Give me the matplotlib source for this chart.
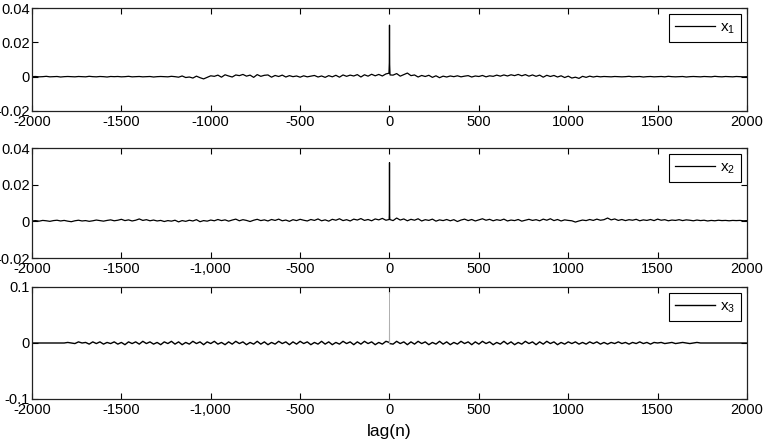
import numpy as np
import matplotlib
matplotlib.use("Agg")
import matplotlib.pyplot as plt

plt.rcParams['font.family'] = ['Liberation Sans', 'DejaVu Sans']
plt.rcParams['axes.unicode_minus'] = False

# ---------------- data ----------------
lag_start, lag_stop, lag_step = -2000, 2000, 20

x1_vals = [
    0.0000, 0.0001, -0.0001, 0.0000, 0.0002, -0.0001, 0.0000, 0.0001, -0.0002, 0.0000,
    0.0001, 0.0000, -0.0001, 0.0001, 0.0000, -0.0001, 0.0002, 0.0000, -0.0001, 0.0001,
    0.0000, -0.0002, 0.0001, 0.0000, 0.0001, -0.0001, 0.0000, 0.0002, -0.0001, 0.0000,
    0.0001, -0.0001, 0.0000, 0.0001, -0.0002, 0.0000, 0.0001, 0.0000, -0.0001, 0.0002,
    0.0000,
    -0.0003, 0.0004, -0.0005, -0.0002, -0.0008, 0.0003, -0.0006, -0.0013, -0.0004, 0.0005,
    0.0002, 0.0009, -0.0003, 0.0011, 0.0004, -0.0002, 0.0010, 0.0006, 0.0013, 0.0003,
    0.0009, -0.0004, 0.0012, 0.0002, 0.0008, 0.0010, -0.0003, 0.0007, 0.0001, 0.0009,
    -0.0002, 0.0006, 0.0000, 0.0004, -0.0003, 0.0005, -0.0001, 0.0003, 0.0007, -0.0002,
    0.0004, -0.0004, 0.0006, -0.0001, 0.0008, -0.0003, 0.0010, 0.0002, 0.0009, 0.0004,
    0.0012, -0.0002, 0.0011, 0.0003, 0.0014, 0.0005, 0.0013, 0.0004, 0.0016,
    0.0070,
    0.0009, 0.0018, 0.0003, 0.0012, 0.0021, 0.0006, 0.0010, -0.0002, 0.0007, 0.0001,
    0.0008, -0.0004, 0.0005, -0.0006, 0.0003, -0.0002, 0.0004, 0.0000, 0.0005, -0.0001,
    0.0003, 0.0006, -0.0002, 0.0004, 0.0001, 0.0007, -0.0001, 0.0005, 0.0002, 0.0009,
    0.0003, 0.0010, 0.0004, 0.0011, 0.0006, 0.0013, 0.0005, 0.0012, 0.0003, 0.0010,
    0.0002, 0.0009, -0.0003, 0.0008, 0.0001, 0.0007, -0.0002, 0.0005, -0.0005, 0.0003,
    -0.0008, -0.0003, -0.0010, 0.0002, -0.0004, 0.0003, -0.0002, 0.0002, -0.0001, 0.0001,
    0.0000, -0.0001, 0.0001, 0.0000, -0.0001, 0.0000, 0.0002, -0.0001, 0.0000, 0.0001,
    -0.0002, 0.0000, 0.0001, -0.0001, 0.0000, 0.0001, -0.0001, 0.0002, 0.0000, -0.0001,
    0.0000, 0.0001, -0.0002, 0.0000, 0.0001, 0.0000, -0.0001, 0.0001, 0.0000, -0.0001,
    0.0002, 0.0000, -0.0001, 0.0001, 0.0000, -0.0001, 0.0001, 0.0000, -0.0001, 0.0000,
]
x1_peak_lags = [-3, -2, -1, 0, 1, 2, 3]
x1_peak_vals = [0.0020, 0.0050, 0.0080, 0.0300, 0.0070, 0.0030, 0.0010]

x2_vals = [
    0.0002, 0.0004, 0.0001, 0.0005, 0.0003, 0.0000, 0.0004, 0.0006, 0.0002, 0.0005,
    0.0001, -0.0002, 0.0003, 0.0006, 0.0002, 0.0004, 0.0000, 0.0003, 0.0007, 0.0004,
    0.0001, 0.0005, 0.0008, 0.0003, 0.0006, 0.0011, 0.0004, 0.0008, 0.0002, 0.0006,
    0.0013, 0.0005, 0.0009, 0.0003, 0.0007, 0.0002, 0.0005, -0.0001, 0.0004, 0.0001,
    0.0006,
    -0.0003, 0.0004, 0.0000, 0.0006, 0.0002, 0.0009, -0.0002, 0.0004, 0.0001, 0.0007,
    0.0003, 0.0010, 0.0004, 0.0008, 0.0001, 0.0007, 0.0012, 0.0003, 0.0009, 0.0005,
    -0.0001, 0.0006, 0.0011, 0.0004, 0.0008, 0.0002, 0.0010, 0.0005, 0.0012, 0.0003,
    0.0007, 0.0000, 0.0009, 0.0004, 0.0011, 0.0006, 0.0002, 0.0010, 0.0005, 0.0013,
    0.0003, 0.0008, 0.0001, 0.0011, 0.0006, 0.0014, 0.0004, 0.0009, 0.0002, 0.0012,
    0.0007, 0.0015, 0.0005, 0.0010, 0.0003, 0.0013, 0.0008, 0.0016, 0.0006,
    0.0030,
    0.0004, 0.0018, 0.0007, 0.0013, 0.0003, 0.0011, 0.0006, 0.0014, 0.0002, 0.0009,
    0.0005, 0.0012, 0.0001, 0.0008, 0.0004, 0.0010, 0.0003, 0.0009, -0.0001, 0.0007,
    0.0012, 0.0004, 0.0010, 0.0002, 0.0008, 0.0014, 0.0006, 0.0011, 0.0003, 0.0009,
    0.0005, 0.0012, 0.0002, 0.0007, 0.0004, 0.0010, 0.0001, 0.0006, 0.0011, 0.0005,
    0.0009, 0.0003, 0.0012, 0.0006, 0.0014, 0.0004, 0.0010, 0.0002, 0.0008, 0.0005,
    0.0003, -0.0004, 0.0002, 0.0007, 0.0004, 0.0010, 0.0005, 0.0012, 0.0006, 0.0009,
    0.0018, 0.0008, 0.0013, 0.0005, 0.0010, 0.0004, 0.0009, 0.0006, 0.0011, 0.0003,
    0.0008, 0.0005, 0.0010, 0.0004, 0.0012, 0.0006, 0.0009, 0.0003, 0.0007, 0.0005,
    0.0009, 0.0004, 0.0008, 0.0006, 0.0003, 0.0007, 0.0004, 0.0006, 0.0002, 0.0005,
    0.0003, 0.0006, 0.0004, 0.0005, 0.0003, 0.0005, 0.0004, 0.0005, 0.0003, 0.0004,
]
x2_peak_lags = [-2, -1, 0, 1, 2]
x2_peak_vals = [0.0010, 0.0040, 0.0320, 0.0030, 0.0010]

x3_vals = [
    0, 0, 0, 0, 0, 0, 0, 0, 0, 0,
    0.001, 0, -0.001, 0.002, 0, 0.001, -0.002, 0.002, -0.001, 0.002,
    -0.002, 0.001, -0.001, 0.002, -0.002, 0.001, -0.003, 0.002, -0.001, 0.002,
    -0.002, 0.003, -0.001, 0.002, -0.002, 0.001, -0.003, 0.002, -0.001, 0.003, -0.002,
    0.002, -0.003, 0.001, -0.002, 0.003, -0.001, 0.002, -0.003, 0.002, -0.001,
    0.003, -0.002, 0.001, -0.003, 0.002, -0.002, 0.003, -0.001, 0.002, -0.003,
    0.001, -0.002, 0.003, -0.002, 0.002, -0.003, 0.001, -0.002, 0.003, -0.001,
    0.002, -0.003, 0.002, -0.002, 0.003, -0.001, 0.002, -0.003, 0.001, -0.002,
    0.003, -0.002, 0.002, -0.003, 0.001, -0.002, 0.003, -0.001, 0.002, -0.003,
    0.002, -0.002, 0.003, -0.001, 0.002, -0.003, 0.001, -0.002, 0.003,
    0.002,
    -0.002, 0.003, -0.001, 0.002, -0.003, 0.002, -0.002, 0.003, -0.001, 0.002,
    -0.003, 0.001, -0.002, 0.003, -0.002, 0.002, -0.003, 0.001, -0.002, 0.003,
    -0.001, 0.002, -0.003, 0.002, -0.002, 0.003, -0.001, 0.002, -0.003, 0.001,
    -0.002, 0.003, -0.002, 0.002, -0.003, 0.001, -0.002, 0.003, -0.001, 0.002,
    -0.003, 0.002, -0.002, 0.003, -0.001, 0.002, -0.003, 0.001, -0.002, 0.002,
    -0.001, 0.002, -0.002, 0.001, -0.002, 0.002, -0.001, 0.002, -0.002, 0.001,
    -0.002, 0.001, -0.001, 0.002, -0.001, 0.001, -0.002, 0.001, -0.001, 0.002,
    -0.001, 0.001, -0.002, 0.001, 0, 0.001, -0.001, 0, 0.001, -0.001,
    0, 0.001, 0, -0.001, 0, 0.001, 0,
    0, 0, 0, 0, 0, 0, 0, 0, 0, 0, 0, 0, 0,
]
x3_peak_lags = [-1, 0, 1]
x3_peak_vals = [0.001, 0.090, -0.001]

series_labels = [r'$\mathregular{x_1}$', r'$\mathregular{x_2}$', r'$\mathregular{x_3}$']

xtick_vals = [-2000, -1500, -1000, -500, 0, 500, 1000, 1500, 2000]
xtick_labels_top = ['-2000', '-1500', '-1000', '-500', '0', '500', '1000', '1500', '2000']
xtick_labels_rest = ['-2000', '-1500', '-1,000', '-500', '0', '500', '1000', '1500', '2000']

ytick_vals_12 = [-0.02, 0, 0.02, 0.04]
ytick_labels_12 = ['-0.02', '0', '0.02', '0.04']
ytick_vals_3 = [-0.1, 0, 0.1]
ytick_labels_3 = ['-0.1', '0', '0.1']

x_label = 'lag(n)'

# ---------------- plotting ----------------
def merge(vals, peak_lags, peak_vals):
    lags = np.arange(lag_start, lag_stop + 1, lag_step)
    vals = np.asarray(vals, dtype=float)
    assert len(lags) == len(vals), (len(lags), len(vals))
    keep = ~np.isin(lags, peak_lags)
    all_l = np.concatenate([lags[keep], np.asarray(peak_lags)])
    all_v = np.concatenate([vals[keep], np.asarray(peak_vals)])
    order = np.argsort(all_l)
    return all_l[order], all_v[order]

fig = plt.figure(figsize=(7.67, 4.45), dpi=100)
W, H = 767, 445
def rect(l, t, r, b):
    return [l / W, 1 - b / H, (r - l) / W, (b - t) / H]

ax1 = fig.add_axes(rect(32, 8, 747, 111))
ax2 = fig.add_axes(rect(32, 148, 747, 258))
ax3 = fig.add_axes(rect(32, 287, 747, 399))

configs = [
    (ax1, x1_vals, x1_peak_lags, x1_peak_vals, series_labels[0], (-0.02, 0.04),
     ytick_vals_12, ytick_labels_12, xtick_labels_top, False),
    (ax2, x2_vals, x2_peak_lags, x2_peak_vals, series_labels[1], (-0.02, 0.04),
     ytick_vals_12, ytick_labels_12, xtick_labels_rest, False),
    (ax3, x3_vals, x3_peak_lags, x3_peak_vals, series_labels[2], (-0.1, 0.1),
     ytick_vals_3, ytick_labels_3, xtick_labels_rest, True),
]

for ax, vals, pl, pv, lab, ylim, yt, ytl, xtl, grey_peak in configs:
    l, v = merge(vals, pl, pv)
    if grey_peak:
        centre = pl[int(np.argmax(np.abs(pv)))]
        main = l != centre
        ax.plot(l[main], v[main], color='black', lw=1.0, label=lab)
        near = np.isin(l, pl)
        ax.plot(l[near], v[near], color='#b0b0b0', lw=0.6)
    else:
        ax.plot(l, v, color='black', lw=0.9, label=lab)
    ax.set_xlim(-2000, 2000)
    ax.set_ylim(*ylim)
    ax.set_xticks(xtick_vals)
    ax.set_xticklabels(xtl)
    ax.set_yticks(yt)
    ax.set_yticklabels(ytl)
    ax.tick_params(direction='in', length=4.5, width=0.8, top=True, right=True,
                   labelsize=10.5, colors='black')
    ax.tick_params(axis='x', pad=3)
    ax.tick_params(axis='y', pad=1.5)
    for s in ax.spines.values():
        s.set_linewidth(0.9)
        s.set_color('#222222')
    leg = ax.legend(loc='upper right', fontsize=11, handlelength=2.6,
                    frameon=True, fancybox=False, framealpha=1,
                    edgecolor='black', borderaxespad=0.4, borderpad=0.4,
                    handletextpad=0.3)
    leg.get_frame().set_linewidth(0.8)

ax3.set_xlabel(x_label, fontsize=12.5, labelpad=5)

fig.savefig('out.png', dpi=100)
